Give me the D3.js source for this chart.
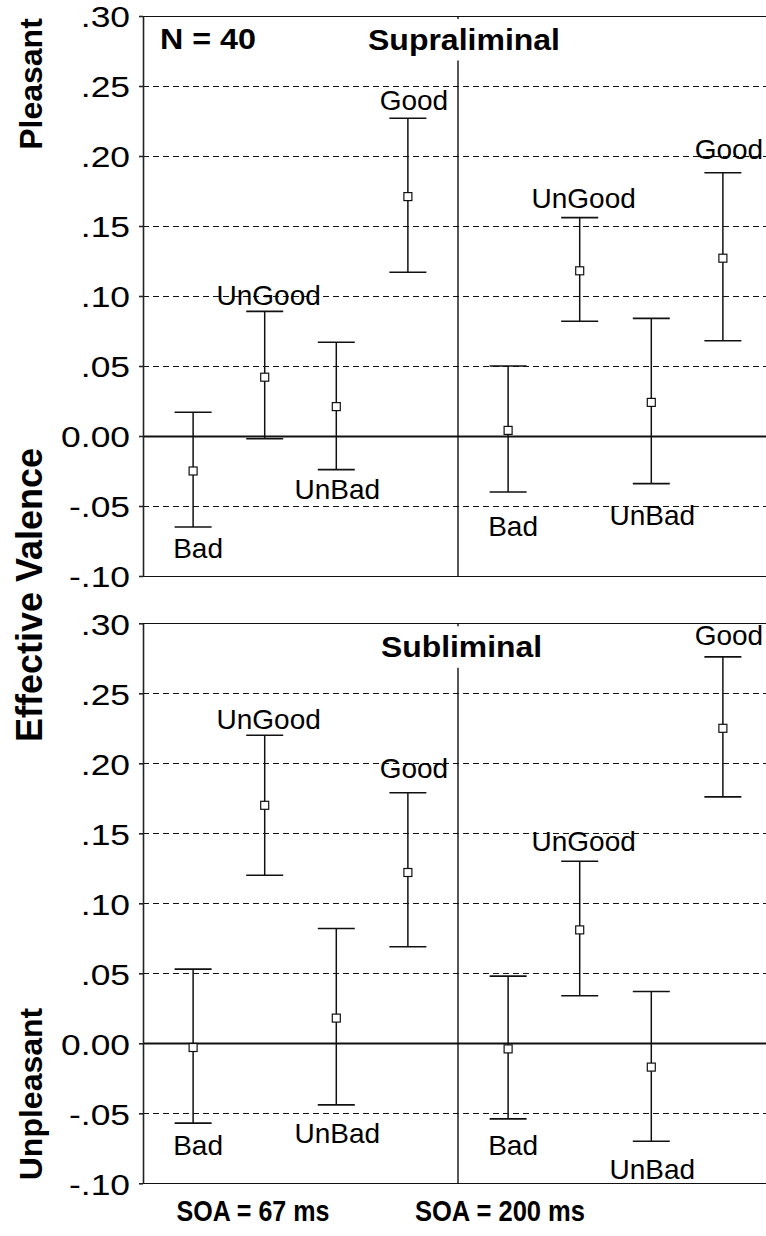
<!DOCTYPE html>
<html>
<head>
<meta charset="utf-8">
<script src="https://cdn.jsdelivr.net/npm/d3@7"></script>
<style>
  body { margin: 0; background: #fff; }
  svg { display: block; font-family: "Liberation Sans", Arial, sans-serif; }
</style>
</head>
<body>
<script>
// categories
const conditions = ["Bad", "UnGood", "UnBad", "Good"];
const soaGroups = ["67", "200"];
const yTicks = [-0.1, -0.05, 0, 0.05, 0.1, 0.15, 0.2, 0.25, 0.3];
const tickLabels = ["-.10", "-.05", "0.00", ".05", ".10", ".15", ".20", ".25", ".30"];

// supraliminal (top panel): means and error bar ends
const supraMean67 = [-0.025, 0.042, 0.021, 0.171];
const supraLow67 = [-0.065, -0.002, -0.024, 0.117];
const supraHigh67 = [0.017, 0.089, 0.067, 0.227];
const supraMean200 = [0.004, 0.118, 0.024, 0.127];
const supraLow200 = [-0.040, 0.082, -0.034, 0.068];
const supraHigh200 = [0.050, 0.156, 0.084, 0.188];

// subliminal (bottom panel)
const subMean67 = [-0.003, 0.170, 0.018, 0.122];
const subLow67 = [-0.057, 0.120, -0.044, 0.069];
const subHigh67 = [0.053, 0.220, 0.082, 0.179];
const subMean200 = [-0.004, 0.081, -0.017, 0.225];
const subLow200 = [-0.054, 0.034, -0.070, 0.176];
const subHigh200 = [0.048, 0.130, 0.037, 0.276];

// label placement (px from the cap, baseline) per panel/group
const labelOffsets = {
  supra67: [31, 6, 29, 8],
  supra200: [44, 10, 41, 14],
  sub67: [32, 6, 38, 15],
  sub200: [36, 10, 38, 12],
};
const labelDx = [5, 4, 1, 6];
const labelAbove = { Bad: false, UnGood: true, UnBad: false, Good: true };

const width = 766;
const height = 1236;
const left = 143;
const right = 773;
const ink = "#111";

const svg = d3.select("body").append("svg")
  .attr("width", width)
  .attr("height", height);

const xGroup = d3.scaleBand().domain(soaGroups).range([left, right]);
const xCond = d3.scalePoint().domain(conditions)
  .range([0, xGroup.bandwidth()]).padding(0.7);

function rows(mean, low, high, offs) {
  return conditions.map((c, i) => ({
    cond: c, mean: mean[i], low: low[i], high: high[i], off: offs[i], dx: labelDx[i],
  }));
}

const panels = [
  {
    title: "Supraliminal", titleX: 368, titleLen: 192, top: 16, bottom: 576,
    groups: {
      "67": rows(supraMean67, supraLow67, supraHigh67, labelOffsets.supra67),
      "200": rows(supraMean200, supraLow200, supraHigh200, labelOffsets.supra200),
    },
  },
  {
    title: "Subliminal", titleX: 381, titleLen: 161, top: 623.3, bottom: 1183.3,
    groups: {
      "67": rows(subMean67, subLow67, subHigh67, labelOffsets.sub67),
      "200": rows(subMean200, subLow200, subHigh200, labelOffsets.sub200),
    },
  },
];

panels.forEach((p) => {
  const y = d3.scaleLinear().domain([-0.1, 0.3]).range([p.bottom, p.top]);
  const g = svg.append("g");

  // grid lines
  g.selectAll("line.grid")
    .data(yTicks)
    .enter()
    .append("line")
    .attr("x1", left)
    .attr("x2", right)
    .attr("y1", (d) => Math.round(y(d)) + 0.5)
    .attr("y2", (d) => Math.round(y(d)) + 0.5)
    .attr("stroke", ink)
    .attr("stroke-width", (d) => (d === 0 ? 1.8 : 1.1))
    .attr("stroke-dasharray", (d) => (d === 0 || d === 0.3 || d === -0.1 ? null : "6,4"));

  // group divider (interrupted by the title)
  const divX = xGroup("200");
  g.append("line")
    .attr("x1", divX).attr("x2", divX)
    .attr("y1", y(0.3)).attr("y2", y(0.3) + 3)
    .attr("stroke", ink).attr("stroke-width", 1.4);
  g.append("line")
    .attr("x1", divX).attr("x2", divX)
    .attr("y1", y(0.3) + 44.5).attr("y2", y(-0.1))
    .attr("stroke", ink).attr("stroke-width", 1.4);

  // y axis
  const axis = d3.axisLeft(y)
    .tickValues(yTicks)
    .tickSize(4)
    .tickSizeOuter(0)
    .tickFormat((d, i) => tickLabels[i]);
  const ax = g.append("g")
    .attr("transform", "translate(" + left + ",0)")
    .call(axis);
  ax.select(".domain").attr("stroke", "#222").attr("stroke-width", 1.6);
  ax.selectAll(".tick line").attr("stroke", "#222").attr("stroke-width", 1.6);
  ax.selectAll(".tick text")
    .attr("x", 0)
    .attr("dy", "0.36em")
    .attr("transform", "translate(-13,0) scale(1.18,1)")
    .attr("font-size", 30)
    .attr("font-family", '"Liberation Sans", Arial, sans-serif')
    .attr("fill", "#000");

  // title
  g.append("text")
    .attr("x", p.titleX)
    .attr("y", p.top + 33.5)
    .attr("font-size", 30)
    .attr("font-weight", "bold")
    .attr("textLength", p.titleLen)
    .attr("lengthAdjust", "spacingAndGlyphs")
    .text(p.title);

  soaGroups.forEach((soa) => {
    const data = p.groups[soa];
    const gx = (d) => xGroup(soa) + xCond(d.cond);
    const grp = g.append("g");

    grp.selectAll("line.bar")
      .data(data)
      .enter()
      .append("line")
      .attr("x1", gx).attr("x2", gx)
      .attr("y1", (d) => y(d.low)).attr("y2", (d) => y(d.high))
      .attr("stroke", ink).attr("stroke-width", 1.5);

    ["low", "high"].forEach((k) => {
      grp.selectAll("line.cap-" + k)
        .data(data)
        .enter()
        .append("line")
        .attr("x1", (d) => gx(d) - 18.5).attr("x2", (d) => gx(d) + 18.5)
        .attr("y1", (d) => y(d[k])).attr("y2", (d) => y(d[k]))
        .attr("stroke", ink).attr("stroke-width", 1.6);
    });

    grp.selectAll("rect")
      .data(data)
      .enter()
      .append("rect")
      .attr("x", (d) => gx(d) - 4)
      .attr("y", (d) => y(d.mean) - 4)
      .attr("width", 8)
      .attr("height", 8)
      .attr("fill", "#fff")
      .attr("stroke", ink)
      .attr("stroke-width", 1.2);

    grp.selectAll("text")
      .data(data)
      .enter()
      .append("text")
      .attr("x", (d) => gx(d) + d.dx)
      .attr("y", (d) => (labelAbove[d.cond] ? y(d.high) - d.off : y(d.low) + d.off))
      .attr("text-anchor", "middle")
      .attr("font-size", 28)
      .attr("fill", "#000")
      .text((d) => d.cond);
  });
});

// N label
svg.append("text")
  .attr("x", 160)
  .attr("y", 48.5)
  .attr("font-size", 29)
  .attr("font-weight", "bold")
  .attr("textLength", 96)
  .attr("lengthAdjust", "spacingAndGlyphs")
  .text("N = 40");

// y-axis side labels
const sideLabels = [
  { text: "Pleasant", cy: 84, size: 32 },
  { text: "Effective Valence", cy: 595, size: 36 },
  { text: "Unpleasant", cy: 1094, size: 32 },
];
svg.selectAll("text.side")
  .data(sideLabels)
  .enter()
  .append("text")
  .attr("class", "side")
  .attr("transform", (d) => "translate(42," + d.cy + ") rotate(-90)")
  .attr("text-anchor", "middle")
  .attr("font-size", (d) => d.size)
  .attr("font-weight", "bold")
  .text((d) => d.text);

// x labels
const xLabels = [
  { text: "SOA = 67 ms", cx: 253, len: 153 },
  { text: "SOA = 200 ms", cx: 500, len: 170 },
];
svg.selectAll("text.xlab")
  .data(xLabels)
  .enter()
  .append("text")
  .attr("class", "xlab")
  .attr("x", (d) => d.cx)
  .attr("y", 1221)
  .attr("text-anchor", "middle")
  .attr("font-size", 30)
  .attr("font-weight", "bold")
  .attr("textLength", (d) => d.len)
  .attr("lengthAdjust", "spacingAndGlyphs")
  .text((d) => d.text);
</script>
</body>
</html>
